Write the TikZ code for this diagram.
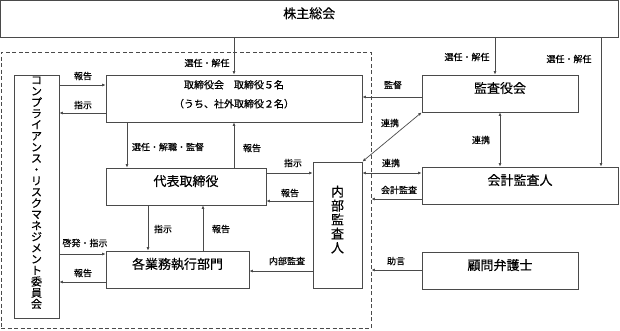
\documentclass[tikz,border=0pt]{standalone}
\usepackage{fontspec}
\setmainfont{Noto Sans CJK JP}[FakeBold=0.35]
\usetikzlibrary{arrows.meta,fit}
\definecolor{ln}{HTML}{4A4A4A}
\begin{document}
\begin{tikzpicture}[x=1pt,y=-1pt,
  box/.style={draw=ln, line width=0.8pt, fill=white, inner sep=0pt, align=center, font=\fontsize{13}{15}\selectfont},
  arr/.style={draw=ln, line width=0.7pt, -{Latex[length=3.5pt,width=3pt]}},
  darr/.style={draw=ln, line width=0.7pt, {Latex[length=3.5pt,width=3pt]}-{Latex[length=3.5pt,width=3pt]}},
  lab/.style={font=\fontsize{9}{10}\selectfont, inner sep=0pt},
  grpbox/.style={draw=ln, line width=0.7pt, dash pattern=on 4pt off 2.5pt, inner sep=0pt}]
\useasboundingbox (0,0) rectangle (620,330);
% group
\node[grpbox, fit={(1,52) (371,328)}] (grp) {};
% boxes
\node[box, fit={(0.5,0.5) (618,37)}] (kabu) {株主総会};
\node[box, fit={(14,75) (59,318)}, font=\fontsize{11}{11.2}\selectfont] (comp)
  {コ\\ン\\プ\\ラ\\イ\\ア\\ン\\ス\\・\\リ\\ス\\ク\\マ\\ネ\\ジ\\メ\\ン\\ト\\委\\員\\会};
\node[box, fit={(106,75) (362,122)}, font=\fontsize{10}{19}\selectfont] (tori)
  {取締役会　取締役５名\\（うち、社外取締役２名）};
\node[box, fit={(422,75) (578,112)}] (kansa) {監査役会};
\node[box, fit={(106,168) (266,205)}] (daihyo) {代表取締役};
\node[box, fit={(313,162) (362,288)}, font=\fontsize{13}{14}\selectfont] (naibu) {内\\部\\監\\査\\人};
\node[box, fit={(422,167) (618,204)}] (kaikei) {会計監査人};
\node[box, fit={(106,251) (249,288)}] (gyomu) {各業務執行部門};
\node[box, fit={(422,252) (578,289)}] (komon) {顧問弁護士};
% helper coordinates
\coordinate (xa) at (495,0);
\coordinate (xb) at (601,0);
\coordinate (xc) at (127,0);
\coordinate (xd) at (148,0);
\coordinate (xe) at (203,0);
\coordinate (xf) at (500,0);
\coordinate (y85) at (0,85);
\coordinate (y113) at (0,113);
\coordinate (y97) at (0,97);
\coordinate (y173) at (0,173);
\coordinate (y201) at (0,201);
\coordinate (y199) at (0,199);
\coordinate (y270) at (0,270);
\coordinate (y254) at (0,254);
\coordinate (y282) at (0,282);
\coordinate (y271) at (0,271);
% connectors
\draw[arr] (tori.north |- kabu.south) -- (tori.north);
\draw[arr] (xa |- kabu.south) -- (xa |- kansa.north);
\draw[arr] (xb |- kabu.south) -- (xb |- kaikei.north);
\draw[arr] (comp.east |- y85) -- (tori.west |- y85);
\draw[arr] (tori.west |- y113) -- (comp.east |- y113);
\draw[arr] (xc |- tori.south) -- (xc |- daihyo.north);
\draw[arr] (tori.south |- daihyo.north) -- (tori.south);
\draw[arr] (kansa.west |- y97) -- (tori.east |- y97);
\draw[darr] (kansa.south west) -- (naibu.north east);
\draw[darr] (xf |- kansa.south) -- (xf |- kaikei.north);
\draw[arr] (daihyo.east |- y173) -- (naibu.west |- y173);
\draw[darr] (naibu.east |- y173) -- (kaikei.west |- y173);
\draw[arr] (naibu.west |- y201) -- (daihyo.east |- y201);
\draw[arr] (kaikei.west |- y199) -- (grp.east |- y199);
\draw[arr] (komon.west |- y270) -- (grp.east |- y270);
\draw[arr] (xd |- daihyo.south) -- (xd |- gyomu.north);
\draw[arr] (xe |- gyomu.north) -- (xe |- daihyo.south);
\draw[arr] (comp.east |- y254) -- (gyomu.west |- y254);
\draw[arr] (gyomu.west |- y282) -- (comp.east |- y282);
\draw[arr] (naibu.west |- y271) -- (gyomu.east |- y271);
% labels
\node[lab] (l1) at (207,63) {選任・解任};
\node[lab] (l2) at (467,57) {選任・解任};
\node[lab] (l3) at (569,59) {選任・解任};
\node[lab] (l4) at (83,76) {報告};
\node[lab] (l5) at (83,105) {指示};
\node[lab] (l6) at (168,147) {選任・解職・監督};
\node[lab] (l7) at (252,148) {報告};
\node[lab] (l8) at (393,85) {監督};
\node[lab] (l9) at (390,123) {連携};
\node[lab] (l10) at (481,140) {連携};
\node[lab] (l11) at (293,163) {指示};
\node[lab] (l12) at (391,163) {連携};
\node[lab] (l13) at (290,193) {報告};
\node[lab] (l14) at (399,190) {会計監査};
\node[lab] (l15) at (163,229) {指示};
\node[lab] (l16) at (221,229) {報告};
\node[lab] (l17) at (85,243) {啓発・指示};
\node[lab] (l18) at (83,273) {報告};
\node[lab] (l19) at (287,261) {内部監査};
\node[lab] (l20) at (396,261) {助言};
\end{tikzpicture}
\end{document}
